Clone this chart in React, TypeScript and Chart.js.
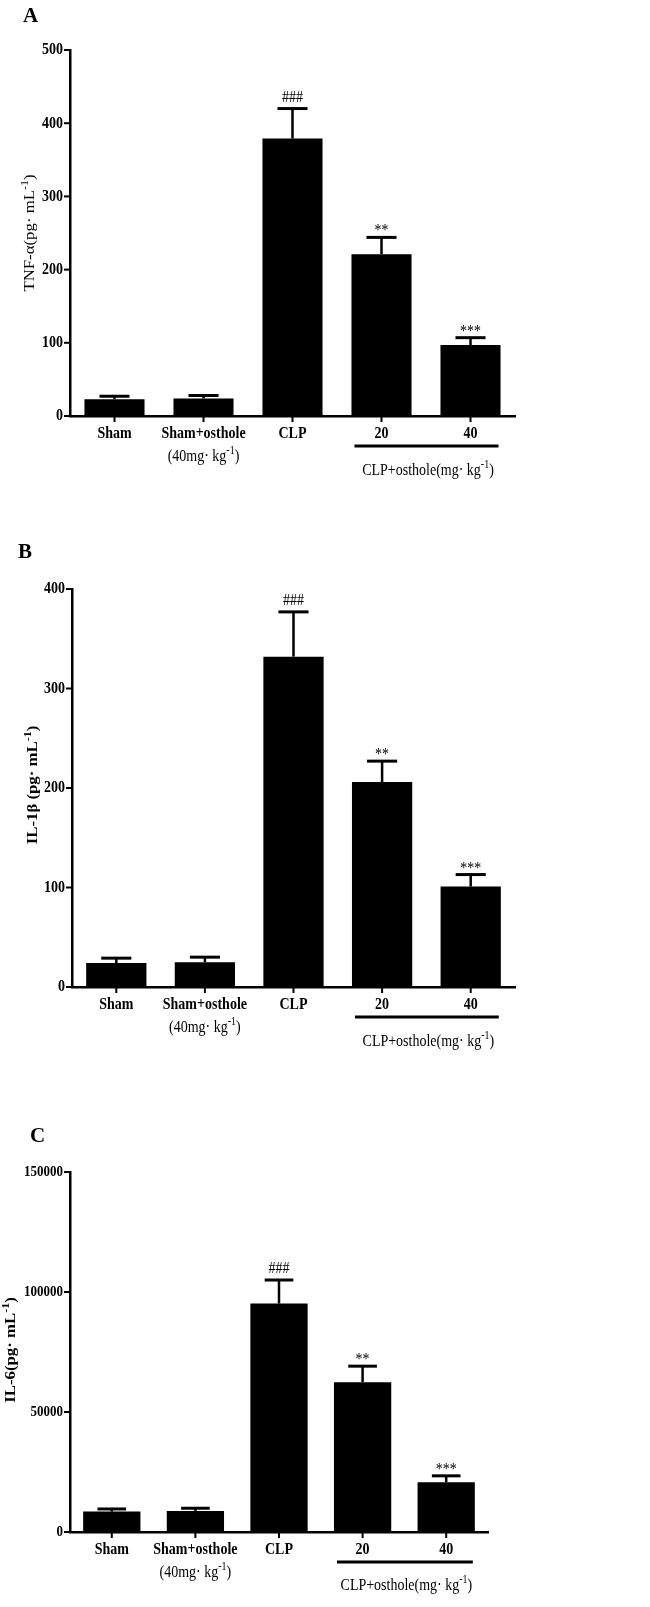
import React, { useEffect, useRef } from "react";
import { Chart, registerables } from "chart.js";
Chart.register(...registerables);

const FONT = "'Liberation Serif', 'Times New Roman', serif";
const STRETCH = 1.2;

// ---- data ----
const categories = ["Sham", "Sham+osthole", "CLP", "20", "40"];
const subLabels = ["", "(40mg· kg^{-1})", "", "", ""];
const groupLabel = "CLP+osthole(mg· kg^{-1})";
const significance = ["", "", "###", "**", "***"];

const tnfMeans = [23, 24, 379, 221, 97];
const tnfSem = [4, 4, 41, 23, 10];

const il1bMeans = [24, 25, 332, 206, 101];
const il1bSem = [5, 5, 45, 21, 12];

const il6Means = [8500, 8800, 95200, 62400, 20700];
const il6Sem = [1100, 1100, 9800, 6700, 2700];

type Cfg = {
  letter: string;
  letterX: number;
  letterY: number;
  canvasTop: number;
  canvasH: number;
  left: number;
  top: number;
  right: number;
  bottom: number;
  yMax: number;
  yStep: number;
  yFont: number;
  means: number[];
  sems: number[];
  yTitle: string;
  yTitleBold: boolean;
  yTitleX: number;
  yTitleY: number;
  l1: number;
  l2: number;
  gLine: number;
  gText: number;
  barPct: number;
};

const panels: Cfg[] = [
  {
    letter: "A", letterX: 23, letterY: 22, canvasTop: 0, canvasH: 505,
    left: 70, top: 50, right: 515, bottom: 416, yMax: 500, yStep: 100, yFont: 14,
    means: tnfMeans, sems: tnfSem, yTitle: "TNF-α(pg· mL^{-1})", yTitleBold: false,
    yTitleX: 29, yTitleY: 233, l1: 22, l2: 45, gLine: 30, gText: 59, barPct: 0.675,
  },
  {
    letter: "B", letterX: 18, letterY: 558, canvasTop: 510, canvasH: 560,
    left: 72, top: 589, right: 515, bottom: 987, yMax: 400, yStep: 100, yFont: 14,
    means: il1bMeans, sems: il1bSem, yTitle: "IL-1β (pg· mL^{-1})", yTitleBold: true,
    yTitleX: 32, yTitleY: 785, l1: 22, l2: 45, gLine: 30, gText: 59, barPct: 0.68,
  },
  {
    letter: "C", letterX: 30, letterY: 1142, canvasTop: 1075, canvasH: 532,
    left: 70, top: 1172, right: 488, bottom: 1532, yMax: 150000, yStep: 50000, yFont: 13,
    means: il6Means, sems: il6Sem, yTitle: "IL-6(pg· mL^{-1})", yTitleBold: true,
    yTitleX: 10, yTitleY: 1350, l1: 22, l2: 45, gLine: 30, gText: 58, barPct: 0.685,
  },
];

function drawRich(
  ctx: CanvasRenderingContext2D,
  str: string,
  size: number,
  bold: boolean,
  align: "left" | "center" | "right",
  baseline: CanvasTextBaseline = "alphabetic"
) {
  // draws at local origin (0,0)
  const parts: { t: string; sup: boolean }[] = [];
  const re = /\^\{([^}]*)\}/g;
  let last = 0;
  let m: RegExpExecArray | null;
  while ((m = re.exec(str))) {
    if (m.index > last) parts.push({ t: str.slice(last, m.index), sup: false });
    parts.push({ t: m[1], sup: true });
    last = m.index + m[0].length;
  }
  if (last < str.length) parts.push({ t: str.slice(last), sup: false });
  const fontFor = (sup: boolean) =>
    `${bold ? "bold " : ""}${sup ? Math.round(size * 0.68) : size}px ${FONT}`;
  let total = 0;
  for (const p of parts) {
    ctx.font = fontFor(p.sup);
    total += ctx.measureText(p.t).width;
  }
  let cx = align === "center" ? -total / 2 : align === "right" ? -total : 0;
  ctx.textAlign = "left";
  ctx.textBaseline = baseline;
  for (const p of parts) {
    ctx.font = fontFor(p.sup);
    ctx.fillText(p.t, cx, p.sup ? -size * 0.4 : 0);
    cx += ctx.measureText(p.t).width;
  }
}

function textAt(
  ctx: CanvasRenderingContext2D,
  str: string,
  x: number,
  y: number,
  size: number,
  bold: boolean,
  align: "left" | "center" | "right",
  baseline: CanvasTextBaseline = "alphabetic",
  rotate = false
) {
  ctx.save();
  ctx.translate(x, y);
  ctx.scale(1, STRETCH);
  if (rotate) ctx.rotate(-Math.PI / 2);
  drawRich(ctx, str, size, bold, align, baseline);
  ctx.restore();
}

function Panel({ cfg }: { cfg: Cfg }) {
  const ref = useRef<HTMLCanvasElement | null>(null);
  useEffect(() => {
    const canvas = ref.current!;
    const W = 650;
    const H = cfg.canvasH;
    const padTop = cfg.top - cfg.canvasTop;
    const padRight = W - cfg.right;
    const yW = cfg.left;
    const xH = H - (cfg.bottom - cfg.canvasTop);
    const off = cfg.canvasTop;

    const extras = {
      id: "extras",
      afterDatasetsDraw(chart: any) {
        const ctx: CanvasRenderingContext2D = chart.ctx;
        const ys = chart.scales.y;
        const xs = chart.scales.x;
        const area = chart.chartArea;
        const meta = chart.getDatasetMeta(0);
        ctx.save();
        ctx.fillStyle = "#000";
        ctx.strokeStyle = "#000";
        ctx.lineCap = "butt";
        // y ticks + labels
        ys.ticks.forEach((t: any) => {
          const py = ys.getPixelForValue(t.value);
          ctx.lineWidth = 2;
          ctx.beginPath();
          ctx.moveTo(area.left - 6, py);
          ctx.lineTo(area.left, py);
          ctx.stroke();
          textAt(ctx, String(t.value), area.left - 7, py, cfg.yFont, true, "right", "middle");
        });
        // bars: error bars + significance
        meta.data.forEach((bar: any, i: number) => {
          const cx = bar.x;
          const bw = bar.width;
          const yTop = ys.getPixelForValue(cfg.means[i]);
          const yCap = ys.getPixelForValue(cfg.means[i] + cfg.sems[i]);
          ctx.lineWidth = 2.5;
          ctx.beginPath();
          ctx.moveTo(cx, yTop);
          ctx.lineTo(cx, yCap);
          ctx.stroke();
          ctx.lineWidth = 3;
          ctx.beginPath();
          ctx.moveTo(cx - bw / 4, yCap);
          ctx.lineTo(cx + bw / 4, yCap);
          ctx.stroke();
          const s = significance[i];
          if (s) {
            textAt(ctx, s, cx, yCap - (s.startsWith("#") ? 7 : 2), 14, false, "center");
          }
        });
        // x tick marks + labels
        categories.forEach((c, i) => {
          const px = xs.getPixelForValue(i);
          ctx.lineWidth = 2;
          ctx.beginPath();
          ctx.moveTo(px, area.bottom);
          ctx.lineTo(px, area.bottom + 6);
          ctx.stroke();
          textAt(ctx, c, px, area.bottom + cfg.l1, 14, true, "center");
          if (subLabels[i]) textAt(ctx, subLabels[i], px, area.bottom + cfg.l2, 14, false, "center");
        });
        // group line
        const b3: any = meta.data[3];
        const b4: any = meta.data[4];
        const gx0 = b3.x - b3.width / 2 + 3;
        const gx1 = b4.x + b4.width / 2 - 2;
        ctx.lineWidth = 3;
        ctx.beginPath();
        ctx.moveTo(gx0, area.bottom + cfg.gLine);
        ctx.lineTo(gx1, area.bottom + cfg.gLine);
        ctx.stroke();
        textAt(ctx, groupLabel, (b3.x + b4.x) / 2 + 2, area.bottom + cfg.gText, 14, false, "center");
        // y title
        textAt(ctx, cfg.yTitle, cfg.yTitleX + 5, cfg.yTitleY - off, 14, cfg.yTitleBold, "center", "alphabetic", true);
        // panel letter
        ctx.font = `bold 21px ${FONT}`;
        ctx.textAlign = "left";
        ctx.textBaseline = "alphabetic";
        ctx.fillText(cfg.letter, cfg.letterX, cfg.letterY - off);
        ctx.restore();
      },
    };

    const chart = new Chart(canvas, {
      type: "bar",
      data: {
        labels: categories,
        datasets: [
          {
            data: cfg.means,
            backgroundColor: "#000",
            borderWidth: 0,
            barPercentage: cfg.barPct,
            categoryPercentage: 1,
          },
        ],
      },
      options: {
        responsive: false,
        animation: false,
        devicePixelRatio: 1,
        layout: { padding: { top: padTop, right: padRight, left: 0, bottom: 0 } },
        plugins: {
          legend: { display: false },
          tooltip: { enabled: false },
          title: { display: false },
        },
        scales: {
          x: {
            type: "category",
            offset: true,
            grid: { display: false },
            border: { display: true, color: "#000", width: 2.5 },
            ticks: { display: false, autoSkip: false, maxRotation: 0 },
            afterFit(s: any) {
              s.height = xH;
            },
          },
          y: {
            min: 0,
            max: cfg.yMax,
            ticks: { stepSize: cfg.yStep, display: false },
            grid: { display: false },
            border: { display: true, color: "#000", width: 2.5 },
            afterFit(s: any) {
              s.width = yW;
            },
          },
        },
      },
      plugins: [extras],
    } as any);
    return () => chart.destroy();
  }, [cfg]);
  return (
    <canvas
      ref={ref}
      width={650}
      height={cfg.canvasH}
      style={{ position: "absolute", left: 0, top: cfg.canvasTop, width: 650, height: cfg.canvasH }}
    />
  );
}

export default function App() {
  return (
    <div style={{ position: "absolute", left: 0, top: 0, width: 650, height: 1607, background: "#fff" }}>
      {panels.map((p) => (
        <Panel key={p.letter} cfg={p} />
      ))}
    </div>
  );
}
